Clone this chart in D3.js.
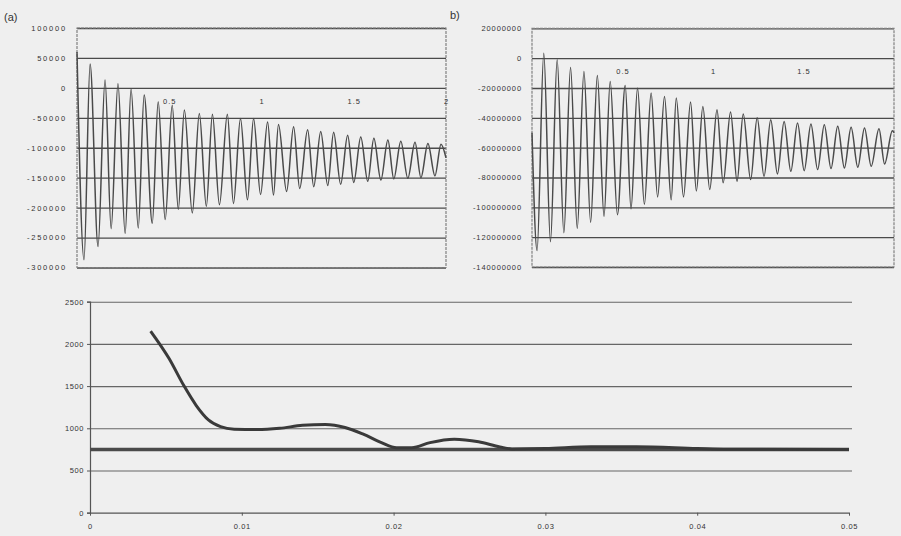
<!DOCTYPE html>
<html><head><meta charset="utf-8">
<script src="https://cdn.jsdelivr.net/npm/d3@7"></script>
<style>
body{margin:0;background:#efefef}
svg{display:block}
text{font-family:"Liberation Sans",Arial,sans-serif;fill:#333}
</style>
</head><body>
<svg id="c" width="901" height="536"></svg>
<script>
// ---- panel (a) ----
const aTime=[0,0.038,0.071,0.114,0.152,0.185,0.222,0.261,0.293,0.332,0.364,0.408,0.440,0.478,0.516,0.549,0.582,0.625,0.663,0.701,0.734,0.772,0.815,0.848,0.886,0.924,0.957,0.995,1.033,1.065,1.092,1.136,1.174,1.207,1.250,1.283,1.321,1.359,1.391,1.429,1.467,1.500,1.538,1.576,1.609,1.647,1.685,1.717,1.755,1.793,1.832,1.864,1.902,1.940,1.973,2.0];
const aValue=[60000,-287000,40000,-265000,13000,-235000,7000,-243000,-2000,-234000,-12000,-226000,-23000,-220000,-29000,-203000,-37000,-209000,-43000,-198000,-44000,-195000,-44000,-193000,-51000,-187000,-51000,-178000,-57000,-179000,-61000,-173000,-65000,-168000,-70000,-165000,-73000,-163000,-74000,-161000,-79000,-158000,-82000,-156000,-84000,-154000,-87000,-152000,-89000,-151000,-91000,-150000,-93000,-147000,-94000,-117000];
const aYTicks=[100000,50000,0,-50000,-100000,-150000,-200000,-250000,-300000];
const aXTicks=[0.5,1,1.5,2];

// ---- panel (b) ----
const bTime=[0,0.028,0.065,0.102,0.139,0.176,0.213,0.250,0.287,0.324,0.361,0.398,0.432,0.472,0.515,0.547,0.583,0.621,0.658,0.694,0.732,0.769,0.797,0.837,0.876,0.908,0.944,0.982,1.022,1.056,1.097,1.133,1.167,1.208,1.244,1.282,1.319,1.356,1.393,1.430,1.467,1.504,1.541,1.578,1.615,1.652,1.689,1.726,1.763,1.800,1.837,1.874,1.917,1.948,1.991,2.0];
const bValue=[-50000000,-129000000,3300000,-123000000,-1100000,-117000000,-6300000,-114000000,-9000000,-110000000,-11600000,-106000000,-15600000,-105000000,-18300000,-101000000,-20000000,-98000000,-23400000,-93000000,-25700000,-95000000,-26800000,-93000000,-29400000,-89000000,-32400000,-88000000,-34600000,-83600000,-36100000,-82500000,-37500000,-81400000,-40000000,-79200000,-41300000,-77600000,-42400000,-75900000,-43500000,-75400000,-44100000,-74700000,-44600000,-74000000,-45700000,-73600000,-46400000,-73200000,-46800000,-72500000,-47300000,-70900000,-48600000,-50000000];
const bYTicks=[20000000,0,-20000000,-40000000,-60000000,-80000000,-100000000,-120000000,-140000000];
const bXTicks=[0.5,1,1.5];

// ---- panel (c) ----
const cTime=[0.0040,0.0052,0.0062,0.0070,0.0078,0.0086,0.0095,0.0110,0.0125,0.0140,0.0155,0.0168,0.0180,0.0192,0.0202,0.0212,0.0224,0.0240,0.0256,0.0270,0.0278,0.0300,0.0330,0.0360,0.0400,0.0420,0.0500];
const cValue=[2150,1830,1500,1270,1100,1020,990,985,1000,1035,1045,1010,930,830,770,770,830,870,840,780,755,760,780,780,760,752,750];
const cRefTime=[0,0.05];
const cRefValue=[750,750];
const cYTicks=[0,500,1000,1500,2000,2500];
const cXTicks=[0,0.01,0.02,0.03,0.04,0.05];

const svg=d3.select("#c");
const FONT="Liberation Sans, Arial, sans-serif";

function oscPanel(o){
  const g=svg.append("g");
  const x=d3.scaleLinear().domain([0,2]).range([o.left,o.right]);
  const y=d3.scaleLinear().domain([o.yTicks[o.yTicks.length-1],o.yTicks[0]]).range([o.bottom,o.top]);
  g.append("g").attr("transform",`translate(${o.left},0)`)
    .call(d3.axisLeft(y).tickValues(o.yTicks).tickSize(-(o.right-o.left)).tickFormat(""))
    .call(s=>s.select(".domain").remove())
    .call(s=>s.selectAll("line").attr("stroke","#4a4a4a").attr("stroke-width",1.3));
  g.append("rect").attr("x",o.left).attr("y",o.top).attr("width",o.right-o.left).attr("height",o.bottom-o.top)
    .attr("fill","none").attr("stroke","#808080").attr("stroke-width",1.2).attr("stroke-dasharray","3,1");
  const ya=g.append("g").attr("transform",`translate(${o.left-7},0)`)
    .call(d3.axisLeft(y).tickValues(o.yTicks).tickSize(0).tickFormat(d=>String(d)));
  ya.select(".domain").remove();
  ya.selectAll("text").attr("font-size",7.5).attr("letter-spacing",o.ls).attr("fill","#333")
    .attr("font-family",FONT);
  const xa=g.append("g").attr("transform",`translate(0,${y(0)})`)
    .call(d3.axisBottom(x).tickValues(o.xTicks).tickSize(0).tickPadding(11).tickFormat(d=>String(d)));
  xa.select(".domain").remove();
  xa.selectAll("text").attr("font-size",7.5).attr("letter-spacing",1).attr("fill","#333")
    .attr("font-family",FONT);
  const pts=o.t.map((t,i)=>[t,o.v[i]]);
  g.append("path").datum(pts)
    .attr("d",d3.line().x(d=>x(d[0])).y(d=>y(d[1])).curve(d3.curveMonotoneX))
    .attr("fill","none").attr("stroke","#4a4a4a").attr("stroke-width",1.5);
}

oscPanel({left:77,right:446,top:28,bottom:267.5,t:aTime,v:aValue,yTicks:aYTicks,xTicks:aXTicks,ls:1.8});
oscPanel({left:532,right:894,top:28.3,bottom:267,t:bTime,v:bValue,yTicks:bYTicks,xTicks:bXTicks,ls:0.9});

svg.append("text").attr("x",4).attr("y",21).attr("font-size",11).attr("fill","#2a2a2a").text("(a)");
svg.append("text").attr("x",450).attr("y",19).attr("font-size",11).attr("fill","#2a2a2a").text("b)");

(function(){
  const L=90,R=849,T=301.7,B=512.7;
  const g=svg.append("g");
  const x=d3.scaleLinear().domain([0,0.05]).range([L,R]);
  const y=d3.scaleLinear().domain([0,2500]).range([B,T]);
  g.append("g").attr("transform",`translate(${L},0)`)
    .call(d3.axisLeft(y).tickValues(cYTicks.filter(d=>d>0)).tickSize(-(R-L+3)).tickFormat(""))
    .call(s=>s.select(".domain").remove())
    .call(s=>s.selectAll("line").attr("stroke","#666").attr("stroke-width",1.1));
  const ya=g.append("g").attr("transform",`translate(${L},0)`)
    .call(d3.axisLeft(y).tickValues(cYTicks).tickSize(3).tickPadding(3).tickFormat(d=>String(d)));
  ya.select(".domain").attr("stroke","#555").attr("stroke-width",1.2);
  ya.selectAll("line").attr("stroke","#555");
  ya.selectAll("text").attr("font-size",7.5).attr("letter-spacing",0.6).attr("fill","#333")
    .attr("font-family",FONT);
  const xa=g.append("g").attr("transform",`translate(0,${B})`)
    .call(d3.axisBottom(x).tickValues(cXTicks).tickSize(3).tickSizeOuter(0).tickPadding(8)
      .tickFormat(d=>d===0?"0":d.toFixed(2)));
  xa.select(".domain").attr("stroke","#555").attr("stroke-width",1.2);
  xa.selectAll("line").attr("stroke","#555");
  xa.selectAll("text").attr("font-size",7.5).attr("letter-spacing",0.6).attr("fill","#333")
    .attr("font-family",FONT);
  const line=d3.line().x(d=>x(d[0])).y(d=>y(d[1]));
  g.append("path").datum(cRefTime.map((t,i)=>[t,cRefValue[i]]))
    .attr("d",line).attr("fill","none").attr("stroke","#4a4a4a").attr("stroke-width",3.5);
  g.append("path").datum(cTime.map((t,i)=>[t,cValue[i]]))
    .attr("d",line.curve(d3.curveMonotoneX)).attr("fill","none").attr("stroke","#3a3a3a").attr("stroke-width",3);
})();
</script>
</body></html>
